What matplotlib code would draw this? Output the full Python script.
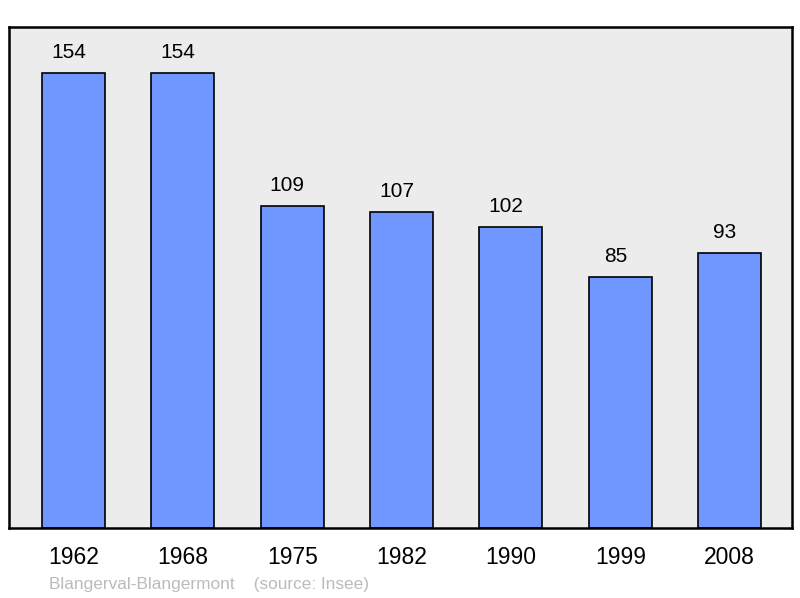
import matplotlib
matplotlib.use("Agg")
import matplotlib.pyplot as plt

years = ["1962", "1968", "1975", "1982", "1990", "1999", "2008"]
population = [154, 154, 109, 107, 102, 85, 93]
footer = "Blangerval-Blangermont    (source: Insee)"

plt.rcParams['font.family'] = ['Liberation Sans', 'DejaVu Sans']

fig = plt.figure(figsize=(8.0, 5.98), dpi=100)
W, H = 800, 598
left, right, top, bottom = 9, 792, 27, 528
ax = fig.add_axes([left / W, 1 - bottom / H, (right - left) / W, (bottom - top) / H])
ax.set_facecolor("#ececec")

x = list(range(len(years)))
ax.bar(x, population, width=0.576, color="#7096ff", edgecolor="black", linewidth=1.2, zorder=2)
for xi, v in zip(x, population):
    ax.annotate(str(v), (xi, v), xytext=(-3.5, 7.8), textcoords="offset points",
                ha="center", va="bottom", fontsize=15, color="black")

ax.set_xlim(-0.59, 6.57)
ax.set_ylim(0, 169.5)
ax.set_yticks([])
ax.set_xticks(x)
ax.set_xticklabels(years, fontsize=16.5)
ax.tick_params(axis="x", length=0, pad=13)
for s in ax.spines.values():
    s.set_linewidth(1.8)
    s.set_color("black")

fig.text(49 / W, 1 - 584 / H, footer, fontsize=12.4, color="#bbbbbb", ha="left", va="center")

fig.savefig("out.png", dpi=100)
